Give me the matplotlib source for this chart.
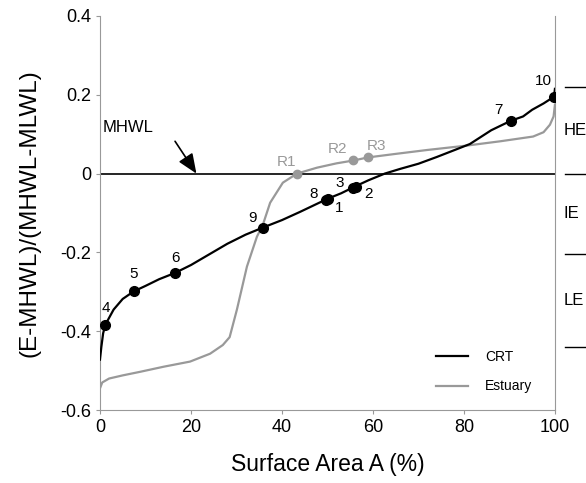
import numpy as np
import matplotlib.pyplot as plt

plt.rcParams['font.family'] = ['Liberation Sans', 'DejaVu Sans']

# CRT curve (black)
crt_x = [0, 0.3, 0.7, 1.2, 3, 5, 7.4, 10, 13, 16.5, 20, 24, 28, 32, 35.8,
         40, 44, 48, 50, 53, 56, 59, 62.6, 66, 70, 74, 78, 81.3, 86, 90.3,
         93, 95, 97.5, 99.8, 100]
crt_y = [-0.472, -0.44, -0.405, -0.383, -0.345, -0.318, -0.299, -0.285,
         -0.268, -0.252, -0.232, -0.205, -0.178, -0.155, -0.137,
         -0.118, -0.097, -0.075, -0.064, -0.05, -0.033, -0.017, 0.0,
         0.012, 0.025, 0.042, 0.06, 0.075, 0.11, 0.134,
         0.145, 0.162, 0.178, 0.195, 0.215]

# Estuary curve (grey)
est_x = [0, 0.5, 2, 5, 8.8, 14, 19.8, 24.2, 27, 28.5, 30.1, 32.3, 34.5,
         35.8, 37.4, 40.2, 43.3, 47.7, 52, 55.6, 58.9, 65, 72, 80.6,
         88, 95.2, 97.5, 98.9, 99.7, 100]
est_y = [-0.545, -0.53, -0.52, -0.512, -0.503, -0.49, -0.477, -0.457,
         -0.435, -0.415, -0.345, -0.236, -0.16, -0.13, -0.074, -0.023,
         0.0, 0.015, 0.026, 0.033, 0.041, 0.05, 0.06, 0.071,
         0.082, 0.094, 0.105, 0.124, 0.145, 0.175]

# numbered CRT stations
pt_lbl = ['1', '2', '3', '4', '5', '6', '7', '8', '9', '10']
pt_x = [50.2, 56.2, 55.6, 1.2, 7.4, 16.5, 90.3, 49.6, 35.8, 99.8]
pt_y = [-0.065, -0.034, -0.036, -0.383, -0.299, -0.252, 0.134, -0.068, -0.137, 0.195]
pt_off = [(11, -9), (13, -7), (-13, 5), (0, 17), (0, 17), (0, 15), (-12, 11),
          (-12, 6), (-10, 10), (-11, 16)]

# reference stations on estuary curve
ref_lbl = ['R1', 'R2', 'R3']
ref_x = [43.3, 55.6, 58.9]
ref_y = [0.0, 0.034, 0.041]
ref_off = [(-10, 12), (-15, 11), (9, 11)]

# zones at the right
zone_bounds = [0.22, 0.0, -0.205, -0.44]
zone_lbl = ['HE', 'IE', 'LE']

fig = plt.figure(figsize=(5.86, 4.83), dpi=100)
ax = fig.add_axes([0.1706, 0.151, 0.7764, 0.816])

grey = '#999999'
ax.axhline(0, color='black', lw=1.2, zorder=1)
ax.plot(crt_x, crt_y, color='black', lw=1.6, label='CRT', zorder=3)
ax.plot(est_x, est_y, color=grey, lw=1.6, label='Estuary', zorder=2)
ax.plot(pt_x, pt_y, 'o', color='black', ms=7, zorder=4)
ax.plot(ref_x, ref_y, 'o', color=grey, ms=6, zorder=4)

for l, x, y, o in zip(pt_lbl, pt_x, pt_y, pt_off):
    ax.annotate(l, (x, y), xytext=o, textcoords='offset pixels',
                fontsize=11, ha='center', va='center')
for l, x, y, o in zip(ref_lbl, ref_x, ref_y, ref_off):
    ax.annotate(l, (x, y), xytext=o, textcoords='offset pixels',
                fontsize=11, ha='center', va='center', color=grey)

ax.text(6.2, 0.117, 'MHWL', fontsize=12, ha='center', va='center')
ax.annotate('', xy=(21.2, 0), xytext=(16.5, 0.082),
            arrowprops=dict(arrowstyle='-|>,head_width=0.5,head_length=1.2',
                            color='black', lw=1.2, shrinkA=0, shrinkB=0))

# zone marks outside the axes
for b in zone_bounds:
    ax.plot([102.2, 107], [b, b], color='black', lw=1, clip_on=False)
for i, l in enumerate(zone_lbl):
    ax.text(101.9, (zone_bounds[i] + zone_bounds[i + 1]) / 2, l,
            fontsize=12, va='center', ha='left', clip_on=False)

ax.set_xlim(0, 100)
ax.set_ylim(-0.6, 0.4)
ax.set_xticks([0, 20, 40, 60, 80, 100])
ax.set_yticks([-0.6, -0.4, -0.2, 0, 0.2, 0.4])
ax.set_yticklabels(['-0.6', '-0.4', '-0.2', '0', '0.2', '0.4'])
ax.tick_params(labelsize=13, length=3, direction='out', color=grey)
ax.set_xlabel('Surface Area A (%)', fontsize=16.5, labelpad=12)
ax.set_ylabel('(E-MHWL)/(MHWL-MLWL)', fontsize=17.5, labelpad=14)
ax.spines['top'].set_visible(False)
for s in ['left', 'bottom', 'right']:
    ax.spines[s].set_color(grey)
    ax.spines[s].set_linewidth(0.8)

ax.legend(loc='lower right', bbox_to_anchor=(0.962, 0.028), borderaxespad=0,
          frameon=False, fontsize=10, handlelength=2.3, handletextpad=1.2,
          labelspacing=1.1)

fig.savefig('out.png', dpi=100)
